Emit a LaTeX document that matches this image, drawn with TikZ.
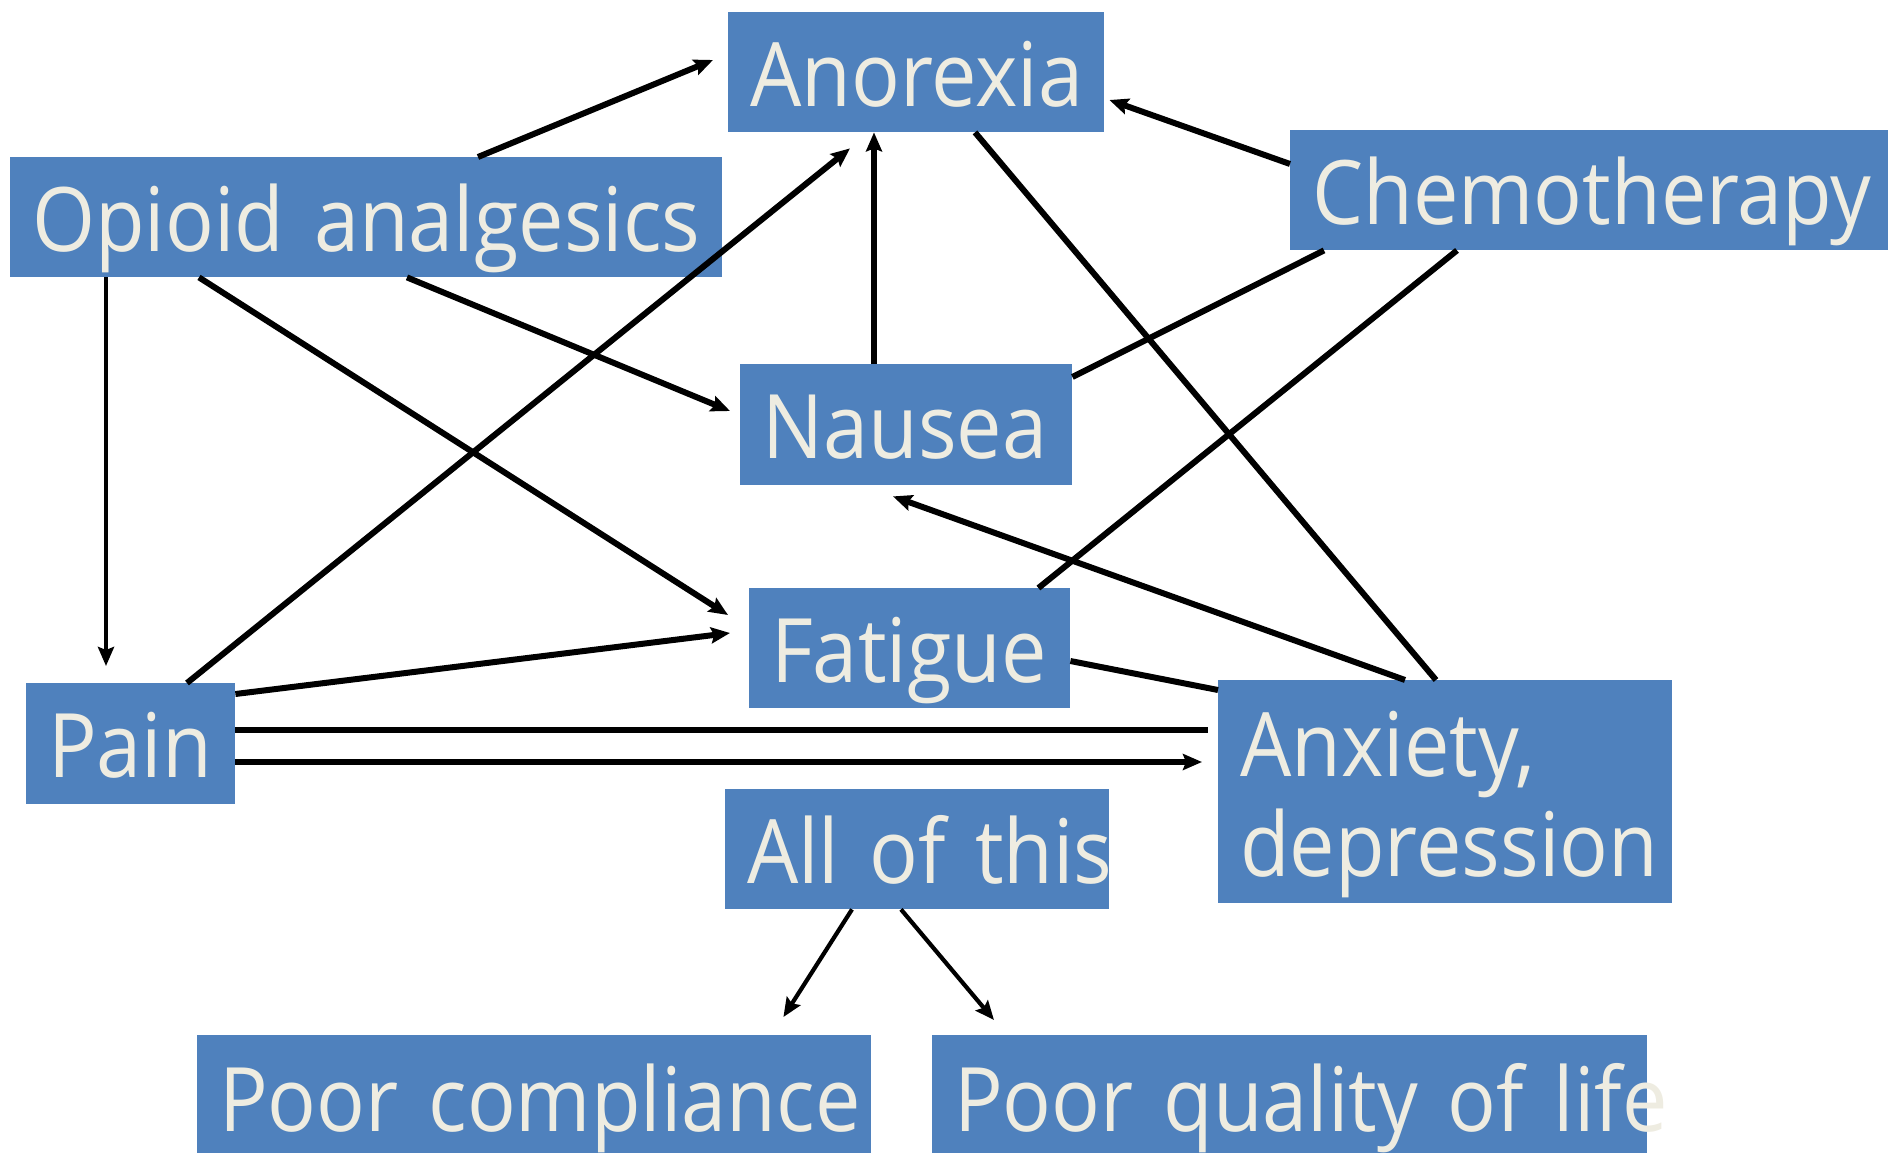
\documentclass[tikz,border=0pt]{standalone}
\usepackage{fontspec}
\setmainfont{Open Sans}[FakeStretch=0.91]
\usetikzlibrary{calc,arrows.meta}
\definecolor{boxblue}{HTML}{4F81BD}
\definecolor{cream}{HTML}{EEECE1}
\tikzset{
  box/.style={fill=boxblue, text=cream, anchor=north west, inner xsep=22pt, inner ysep=0pt,
    align=left, font=\fontsize{89}{100}\selectfont, text height=94pt, text depth=26pt},
  conn/.style={draw=black, line width=6pt},
  thin conn/.style={draw=black, line width=4.2pt},
  arr/.style={-{Stealth[length=19pt,width=16pt,inset=3pt]}},
}
\begin{document}
\begin{tikzpicture}[x=1pt,y=-1pt]
\useasboundingbox (0,0) rectangle (1888,1153);
\node[box, text width=332pt] (anor) at (728,12) {\mbox{Anorexia}};
\node[box, text width=668pt] (opi) at (10,157) {\mbox{Opioid\ analgesics}};
\node[box, text width=554pt] (chemo) at (1290,130) {\mbox{Chemotherapy}};
\node[box, text width=288pt, text height=94pt, text depth=27pt] (naus) at (740,364) {\mbox{Nausea}};
\node[box, text width=277pt] (fat) at (749,588) {\mbox{Fatigue}};
\node[box, text width=165pt, text height=94pt, text depth=27pt] (pain) at (26,683) {\mbox{Pain}};
\node[box, text width=410pt, text height=96pt, text depth=127pt] (anx) at (1218,680) {Anxiety,\\depression};
\node[box, text width=340pt] (all) at (725,789) {\mbox{All of this}};
\node[box, text width=630pt, text height=96pt, text depth=22pt] (pc) at (197,1035) {\mbox{Poor compliance}};
\node[box, text width=671pt, text height=96pt, text depth=22pt] (pq) at (932,1035) {\mbox{Poor quality of life}};

% connectors
\draw[conn,arr] ($(opi.north west)+(468,0)$) -- ($(anor.north west)+(-15,48)$);
\draw[thin conn,arr] ($(opi.south west)+(96,0)$) -- ($(pain.north west)+(80,-17)$);
\draw[conn,arr] ($(opi.south west)+(397,0)$) -- ($(naus.north west)+(-10,47)$);
\draw[conn,arr] ($(opi.south west)+(189,0)$) -- ($(fat.north west)+(-21,27)$);
\draw[conn,arr] ($(pain.north west)+(161,0)$) -- ($(anor.south west)+(122,16)$);
\draw[conn,arr] ($(naus.north west)+(134,0)$) -- ($(anor.south west)+(146,0)$);
\draw[conn,arr] ($(chemo.north west)+(0,34)$) -- ($(anor.north east)+(5,88)$);
\draw[conn] ($(chemo.south west)+(34,0)$) -- ($(naus.north east)+(0,13)$);
\draw[conn] ($(chemo.south west)+(167,0)$) -- ($(fat.north east)+(-32,0)$);
\draw[conn] ($(anx.north west)+(218,0)$) -- ($(anor.south west)+(247,0)$);
\draw[conn,arr] ($(anx.north west)+(187,0)$) -- ($(naus.south west)+(153,11)$);
\draw[conn] ($(fat.north east)+(0,73)$) -- ($(anx.north west)+(0,10)$);
\draw[conn,arr] ($(pain.north east)+(0,11)$) -- ($(fat.north west)+(-19,45)$);
\draw[conn] ($(pain.north east)+(0,47)$) -- ($(anx.north west)+(-10,50)$);
\draw[conn,arr] ($(pain.north east)+(0,79)$) -- ($(anx.north west)+(-16,82)$);
\draw[thin conn,arr] ($(all.south west)+(127,0)$) -- ($(pc.north east)+(-88,-18)$);
\draw[thin conn,arr] ($(all.south west)+(176,0)$) -- ($(pq.north west)+(62,-15)$);
\end{tikzpicture}
\end{document}
